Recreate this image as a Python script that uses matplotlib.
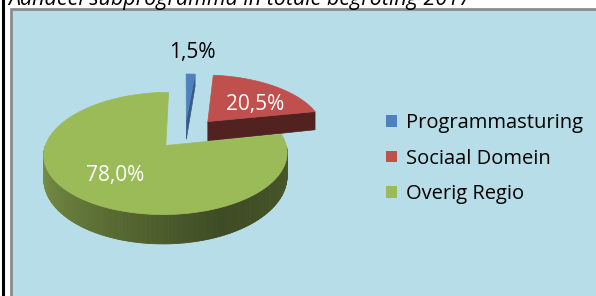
import numpy as np
import matplotlib.pyplot as plt
from matplotlib.patches import Polygon, Patch, Rectangle
from matplotlib.colors import to_rgb

TITLE = "Aandeel subprogramma in totale begroting 2017"
CATEGORIES = ["Programmasturing", "Sociaal Domein", "Overig Regio"]
SHARES = [1.5, 20.5, 78.0]
VALUE_LABELS = ["1,5%", "20,5%", "78,0%"]
COLORS = ["#4F81BD", "#C0504D", "#9BBB59"]

# pseudo 3D layout (pixels)
CX, CY = 185, 134
RX = 117
EXPLODE = [0.25, 0.3, 0.25]
FONT = ["Open Sans", "DejaVu Sans"]


def project(x, y, z=0.0):
    """Unit-circle point -> screen pixel, with a little perspective."""
    x = np.asarray(x, dtype=float)
    y = np.asarray(y, dtype=float)
    sx = CX + RX * x * (1 - 0.15 * y)
    sy = CY - (58 * y - 8 * y ** 2) + z * (21 - 7 * y)
    return sx, sy


def shade(color, f):
    return tuple(min(1, c * f) for c in to_rgb(color))


def side_factor(t, i):
    # green side goes light -> dark from left to right, others flat
    if i == 2:
        return np.interp(t, [-180, -65, 0], [0.82, 0.40, 0.48])
    return 0.45 if i == 1 else 0.7


def draw_pie(ax):
    fracs = np.array(SHARES) / sum(SHARES)
    cum = np.concatenate([[0], np.cumsum(fracs)])
    wedges = []
    for i in range(len(SHARES)):
        t2 = 90 - cum[i] * 360
        t1 = 90 - cum[i + 1] * 360
        mid = np.radians((t1 + t2) / 2)
        ox, oy = EXPLODE[i] * np.cos(mid), EXPLODE[i] * np.sin(mid)
        wedges.append((i, t1, t2, mid, ox, oy))

    # back wedges first
    for i, t1, t2, mid, ox, oy in sorted(wedges, key=lambda w: -np.sin(w[3])):
        color = COLORS[i]
        t = np.linspace(t1, t2, 300)
        ax_ = ox + np.cos(np.radians(t))
        ay_ = oy + np.sin(np.radians(t))

        # outer side, front half only
        for k in range(len(t) - 1):
            if np.sin(np.radians(t[k])) < 0 and np.sin(np.radians(t[k + 1])) < 0:
                xs = [ax_[k], ax_[k + 1], ax_[k + 1], ax_[k]]
                ys = [ay_[k], ay_[k + 1], ay_[k + 1], ay_[k]]
                px, py = project(xs, ys, np.array([0, 0, 1, 1]))
                c = shade(color, side_factor((t[k] + t[k + 1]) / 2, i))
                ax.add_patch(Polygon(np.column_stack([px, py]), closed=True,
                                     facecolor=c, edgecolor=c, lw=0.6))

        # radial cut face at the start angle
        if np.cos(np.radians(t1)) > 1e-6:
            ex, ey = ox + np.cos(np.radians(t1)), oy + np.sin(np.radians(t1))
            px, py = project([ox, ex, ex, ox], [oy, ey, ey, oy],
                             np.array([0, 0, 1, 1]))
            c = shade(color, 0.42 if i == 1 else 0.7)
            ax.add_patch(Polygon(np.column_stack([px, py]), closed=True,
                                 facecolor=c, edgecolor=c, lw=0.5))

        # top face
        px, py = project(np.concatenate([[ox], ax_]), np.concatenate([[oy], ay_]))
        ax.add_patch(Polygon(np.column_stack([px, py]), closed=True,
                             facecolor=color, edgecolor=color, lw=0.5))

    # value labels
    label_r = [1.65, 0.55, 0.6]
    label_shift = [0, -12, 0]  # degrees, to sit nearer the visual middle
    for i, t1, t2, mid, ox, oy in wedges:
        a = mid + np.radians(label_shift[i])
        lx, ly = project(ox + label_r[i] * np.cos(a), oy + label_r[i] * np.sin(a))
        ax.text(lx, ly, VALUE_LABELS[i], ha="center", va="center",
                fontsize=15, family=FONT,
                color="black" if i == 0 else "white")


def main():
    fig = plt.figure(figsize=(5.96, 2.96), dpi=100)
    fig.patch.set_facecolor("white")
    ax = fig.add_axes([0, 0, 1, 1])
    ax.set_xlim(0, 596)
    ax.set_ylim(296, 0)
    ax.axis("off")

    # frame and background
    ax.plot([3, 3], [0, 296], color="black", lw=2.2)
    ax.add_patch(Rectangle((11, 9), 600, 300, facecolor="#B7DDE8",
                           edgecolor="#8C8C8C", lw=2))
    ax.text(8, 5.5, TITLE, ha="left", va="baseline", fontsize=15.5,
            style="italic", family=FONT)

    draw_pie(ax)

    handles = [Patch(facecolor=c, label=l) for c, l in zip(COLORS, CATEGORIES)]
    ax.legend(handles=handles, loc="upper left",
              bbox_to_anchor=(378 / 596, 1 - 105 / 296), frameon=False,
              prop={"family": FONT, "size": 14.5}, handlelength=0.52,
              handleheight=0.52, handletextpad=0.45, labelspacing=0.78,
              borderaxespad=0)

    fig.savefig("out.png", dpi=100)


if __name__ == "__main__":
    main()
